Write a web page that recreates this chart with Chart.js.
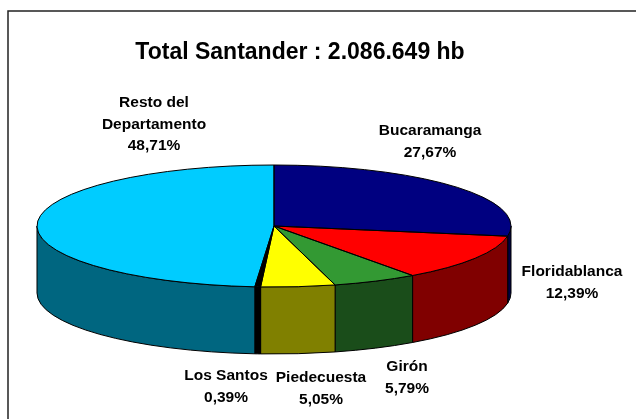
<!DOCTYPE html>
<html>
<head>
<meta charset="utf-8">
<script src="https://cdn.jsdelivr.net/npm/chart.js@4.4.1/dist/chart.umd.min.js"></script>
<style>
  body { margin: 0; background: #fff; }
  #wrap { width: 636px; height: 419px; }
</style>
</head>
<body>
<div id="wrap"><canvas id="popChart" width="636" height="419"></canvas></div>
<script>
// Population share by municipality (Santander)
const titleText = 'Total Santander : 2.086.649 hb';
const sliceNames = [['Bucaramanga'], ['Floridablanca'], ['Girón'], ['Piedecuesta'], ['Los Santos'], ['Resto del', 'Departamento']];
const sharePct = [27.67, 12.39, 5.79, 5.05, 0.39, 48.71];
const topColors = ['#000080', '#FF0000', '#339933', '#FFFF00', '#000000', '#00CCFF'];
const sideColors = ['#000040', '#800000', '#1A4D1A', '#808000', '#000000', '#006680'];

// where each label block sits (centre x, first line y)
const labelSpots = [[430, 131], [572, 272], [407, 367], [321, 378], [226, 376], [154, 103]];

const RX = 237, RY = 61, DEPTH = 67;

function fmtPct(v) {
    return v.toFixed(2).replace('.', ',') + '%';
}

// squashes the flat pie into an ellipse and adds the side walls
const pie3d = {
    id: 'pie3d',
    beforeDatasetsDraw(chart) {
        const ctx = chart.ctx;
        const arcs = chart.getDatasetMeta(0).data;
        const cx = arcs[0].x, cy = arcs[0].y, r = arcs[0].outerRadius;

        // front walls (only the part facing the viewer)
        arcs.forEach((arc, i) => {
            const s = Math.max(arc.startAngle, 0);
            const e = Math.min(arc.endAngle, Math.PI);
            if (s >= e) return;
            ctx.save();
            ctx.beginPath();
            ctx.ellipse(cx, cy, RX, RY, 0, s, e);
            ctx.ellipse(cx, cy + DEPTH, RX, RY, 0, e, s, true);
            ctx.closePath();
            ctx.fillStyle = sideColors[i];
            ctx.fill();
            ctx.lineWidth = 1;
            ctx.strokeStyle = '#000';
            ctx.stroke();
            ctx.restore();
        });

        ctx.save();
        ctx.translate(cx, cy);
        ctx.scale(RX / r, RY / r);
        ctx.translate(-cx, -cy);
    },
    afterDatasetsDraw(chart) {
        const ctx = chart.ctx;
        ctx.restore();
        const arcs = chart.getDatasetMeta(0).data;
        const cx = arcs[0].x, cy = arcs[0].y;

        // outlines of the top face
        ctx.save();
        ctx.lineWidth = 1;
        ctx.strokeStyle = '#000';
        arcs.forEach(arc => {
            ctx.beginPath();
            ctx.moveTo(cx, cy);
            ctx.ellipse(cx, cy, RX, RY, 0, arc.startAngle, arc.endAngle);
            ctx.closePath();
            ctx.stroke();
        });
        ctx.restore();
    },
    afterDraw(chart) {
        const ctx = chart.ctx;
        ctx.save();
        // frame
        ctx.strokeStyle = '#222';
        ctx.lineWidth = 1.5;
        ctx.strokeRect(8, 11, 700, 500);

        ctx.fillStyle = '#000';
        ctx.textAlign = 'center';
        ctx.textBaseline = 'middle';
        ctx.font = 'bold 23px "Liberation Sans", Arial, sans-serif';
        ctx.fillText(titleText, 300, 53);

        ctx.font = 'bold 15.5px "Liberation Sans", Arial, sans-serif';
        sliceNames.forEach((lines, i) => {
            const [x, y] = labelSpots[i];
            const all = lines.concat([fmtPct(sharePct[i])]);
            all.forEach((t, k) => ctx.fillText(t, x, y + k * 21.5));
        });
        ctx.restore();
    }
};

const ctx = document.getElementById('popChart').getContext('2d');
const popChart = new Chart(ctx, {
    type: 'pie',
    data: {
        labels: sliceNames.map(n => n.join(' ')),
        datasets: [{
            data: sharePct,
            backgroundColor: topColors,
            borderWidth: 0,
            clip: false
        }]
    },
    options: {
        responsive: false,
        animation: false,
        layout: {
            padding: { left: 0, right: 88, top: 33, bottom: 0 }
        },
        plugins: {
            legend: { display: false },
            tooltip: { enabled: false },
            title: { display: false }
        }
    },
    plugins: [pie3d]
});
</script>
</body>
</html>
